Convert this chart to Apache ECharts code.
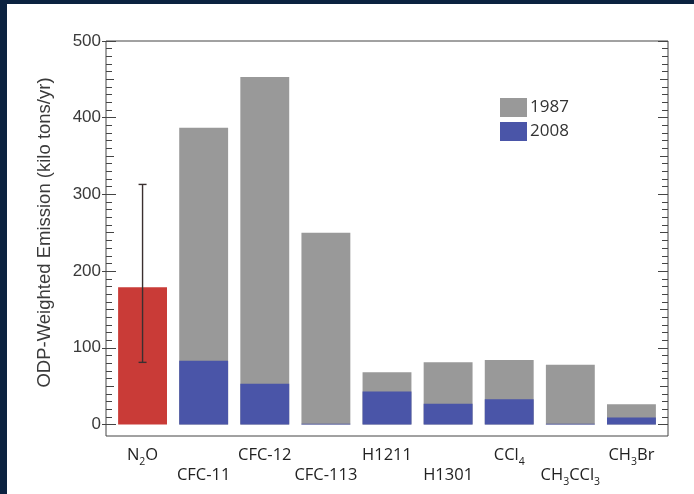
<!DOCTYPE html>
<html><head><meta charset="utf-8">
<script src="https://cdn.jsdelivr.net/npm/echarts@6/dist/echarts.min.js"></script>
<style>html,body{margin:0;padding:0;background:#fff}#c{width:694px;height:494px}</style>
</head><body><div id="c"></div>
<script>
// ---- data ----
const categories = ['N2O','CFC-11','CFC-12','CFC-113','H1211','H1301','CCl4','CH3CCl3','CH3Br'];
const labelsRich = ['N{s|2}O','CFC-11','CFC-12','CFC-113','H1211','H1301','CCl{s|4}','CH{s|3}CCl{s|3}','CH{s|3}Br'];
const n2oValues = [179, null, null, null, null, null, null, null, null];
const values1987 = [null, 387, 453, 250, 68, 81, 84, 78, 26.5];
const values2008 = [null, 83, 53, 1, 43, 27, 33, 1, 9];
const n2oError = [[0, 81, 313]]; // [categoryIndex, low, high]
const yTickLabels = [0, 100, 200, 300, 400, 500];
const yMinorTicks = []; for (let v = 0; v <= 500; v += 10) yMinorTicks.push(v);
const yMidTicks = [50, 150, 250, 350, 450];

const chart = echarts.init(document.getElementById('c'), null, {renderer: 'canvas'});
const frameGrid = {left: 106, right: 26, top: 41, bottom: 58};
const barGrid = {left: 112, right: 32, top: 41, bottom: 58};
const yMin = -15, yMax = 500;
const axisColor = '#444';
const tickFont = 'Liberation Sans';
const catFont = 'Open Sans';

function yAx(opts) {
  return Object.assign({
    type: 'value', gridIndex: 0, min: yMin, max: yMax,
    splitLine: {show: false},
    axisLine: {show: false},
    axisLabel: {show: false},
    axisTick: {show: false}
  }, opts);
}

const option = {
  animation: false,
  backgroundColor: '#fff',
  graphic: [
    {type: 'rect', shape: {x: 0, y: 0, width: 694, height: 4}, style: {fill: '#0b2240'}, z: 100},
    {type: 'rect', shape: {x: 0, y: 0, width: 7, height: 494}, style: {fill: '#0b2240'}, z: 100}
  ],
  grid: [
    Object.assign({show: true, borderColor: axisColor, borderWidth: 1, backgroundColor: 'transparent'}, frameGrid),
    Object.assign({show: false}, barGrid)
  ],
  legend: {
    data: ['1987', '2008'],
    orient: 'vertical', left: 500, top: 98, padding: 0,
    itemWidth: 27, itemHeight: 19, itemGap: 5,
    icon: 'rect',
    textStyle: {fontFamily: catFont, fontSize: 17, color: '#333', padding: [0,0,0,-2]}
  },
  xAxis: [
    {type: 'value', gridIndex: 0, min: 0, max: 1, show: false},
    {type: 'category', gridIndex: 1, data: categories,
     axisLine: {show: false}, axisTick: {show: false}, splitLine: {show: false},
     axisLabel: {
       interval: 0, margin: 9, color: '#222', fontFamily: catFont, fontSize: 16.5, lineHeight: 20,
       formatter: function (v, i) { return (i % 2 === 1 ? '\n' : '') + labelsRich[i]; },
       rich: {
         s: {fontFamily: catFont, fontSize: 10.5, lineHeight: 20, verticalAlign: 'bottom', color: '#222', padding: [0, 0, -3, 0]}
       }
     }}
  ],
  yAxis: [
    yAx({position: 'left', name: 'ODP-Weighted Emission (kilo tons/yr)', nameLocation: 'middle', nameGap: 52,
         nameTextStyle: {fontFamily: tickFont, fontSize: 18.5, color: '#3a3a3a', padding: [0, 0, 0, 12]},
         axisLine: {show: false},
         axisLabel: {show: true, customValues: yTickLabels, margin: 5, fontFamily: tickFont, fontSize: 17, color: '#3a3a3a'},
         axisTick: {show: true, customValues: yMinorTicks, inside: true, length: 6, lineStyle: {color: axisColor, width: 1}}}),
    yAx({position: 'left', axisTick: {show: true, customValues: yTickLabels, inside: true, length: 10, lineStyle: {color: axisColor, width: 1}}}),
    yAx({position: 'left', axisTick: {show: true, customValues: yTickLabels, inside: false, length: 4, lineStyle: {color: axisColor, width: 1}}}),
    yAx({position: 'left', axisTick: {show: true, customValues: yMidTicks, inside: true, length: 8, lineStyle: {color: axisColor, width: 1}}}),
    yAx({position: 'right', axisTick: {show: true, customValues: yMinorTicks, inside: true, length: 6, lineStyle: {color: axisColor, width: 1}}}),
    yAx({position: 'right', axisTick: {show: true, customValues: yTickLabels, inside: true, length: 10, lineStyle: {color: axisColor, width: 1}}}),
    yAx({position: 'right', axisTick: {show: true, customValues: yMidTicks, inside: true, length: 8, lineStyle: {color: axisColor, width: 1}}}),
    yAx({gridIndex: 1, show: false})
  ],
  series: [
    {name: '1987', type: 'bar', xAxisIndex: 1, yAxisIndex: 7, data: values1987,
     barGap: '-100%', barCategoryGap: '20%', itemStyle: {color: '#999999'}},
    {name: '2008', type: 'bar', xAxisIndex: 1, yAxisIndex: 7, data: values2008,
     barGap: '-100%', barCategoryGap: '20%', itemStyle: {color: '#4a55a8'}},
    {name: 'N2O', type: 'bar', xAxisIndex: 1, yAxisIndex: 7, data: n2oValues,
     barGap: '-100%', barCategoryGap: '20%', itemStyle: {color: '#c93b37'}},
    {name: 'err', type: 'custom', xAxisIndex: 1, yAxisIndex: 7, data: n2oError, z: 10,
     renderItem: function (params, api) {
       const x = api.value(0);
       const lo = api.coord([x, api.value(1)]);
       const hi = api.coord([x, api.value(2)]);
       const hw = 4;
       const st = {stroke: '#3a3030', lineWidth: 1.4};
       return {type: 'group', children: [
         {type: 'line', shape: {x1: lo[0], y1: lo[1], x2: hi[0], y2: hi[1]}, style: st},
         {type: 'line', shape: {x1: lo[0]-hw, y1: lo[1], x2: lo[0]+hw, y2: lo[1]}, style: st},
         {type: 'line', shape: {x1: hi[0]-hw, y1: hi[1], x2: hi[0]+hw, y2: hi[1]}, style: st}
       ]};
     }}
  ]
};
chart.setOption(option);
</script>
</body></html>
